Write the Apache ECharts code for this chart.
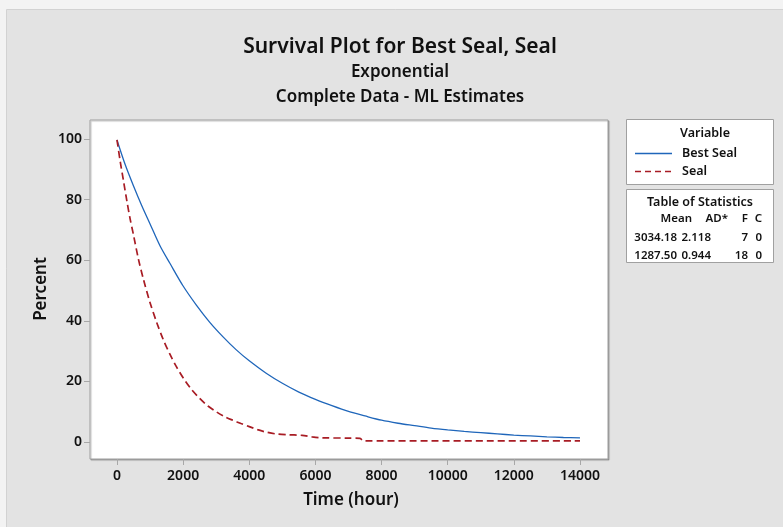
<!DOCTYPE html>
<html>
<head>
<meta charset="utf-8">
<script src="https://cdn.jsdelivr.net/npm/echarts@6/dist/echarts.min.js"></script>
<style>
html,body{margin:0;padding:0;background:#f3f3f3;}
#chart{width:783px;height:527px;}
</style>
</head>
<body>
<div id="chart"></div>
<script>
// ---- data ----
var bestSealTime = [0,250,500,750,1000,1300,1600,2000,2400,2800,3200,3600,4000,4500,5000,5500,6000,6500,7000,7500,8000,8500,9000,9500,10000,10500,11000,11500,12000,12500,13000,13500,14000];
var bestSealPct  = [99.7,91.5,84.5,78,72,64.8,59,51.5,45.2,39.6,34.8,30.5,26.8,22.8,19.4,16.5,14.1,12.0,10.1,8.6,7.2,6.2,5.4,4.6,4.0,3.5,3.1,2.7,2.3,2.0,1.7,1.5,1.4];
var sealTime = [0,100,200,300,400,500,650,800,1000,1200,1400,1600,1800,2000,2250,2500,2750,3000,3250,3500,3750,4000,4250,4500,4800,5200,5600,5900,6200,7000,7350,7450,14000];
var sealPct  = [99.7,92.5,86,79.5,73.5,68.3,60.3,53.7,46,39.5,33.8,29,24.8,21.2,17.4,14.4,11.9,10,8.4,7.2,6.1,5.1,4.1,3.3,2.7,2.4,2.2,1.7,1.4,1.3,1.2,0.4,0.4];
var seriesNames = ['Best Seal','Seal'];
var xTicks = [0,2000,4000,6000,8000,10000,12000,14000];
var yTicks = [0,20,40,60,80,100];
var statHeader = ['Mean','AD*','F','C'];
var statRows = [['3034.18','2.118','7','0'],['1287.50','0.944','18','0']];

var BLUE = '#1f66ba', RED = '#a81c24';
function pairs(xs, ys){ return xs.map(function(x,i){ return [x, ys[i]]; }); }

var FONT = 'Noto Sans';
var chart = echarts.init(document.getElementById('chart'), null, {renderer:'canvas'});

function txt(x,y,s,size,align,extra){
  var o = {type:'text', x:x, y:y, style:{text:s, font:'600 '+size+'px "'+FONT+'"', fill:'#111', textAlign:align||'center', textVerticalAlign:'middle'}};
  if (extra) for (var k in extra) o[k]=extra[k];
  return o;
}

var gfx = [
  {type:'rect', z:-10, shape:{x:6.5,y:9.5,width:790,height:530}, style:{fill:'#e3e3e3', stroke:'#d2d2d2', lineWidth:1}},
  txt(400,47,'Survival Plot for Best Seal, Seal',21),
  txt(400,72,'Exponential',17),
  txt(400,97,'Complete Data - ML Estimates',17),
  txt(351,500,'Time (hour)',17),
  txt(41,289,'Percent',17,'center',{rotation:Math.PI/2}),
  // legend box
  {type:'rect', z:-5, shape:{x:626.5,y:119.5,width:147,height:65}, style:{fill:'#fff', stroke:'#a0a0a0', lineWidth:1}},
  txt(705,133,'Variable',12.5),
  {type:'line', shape:{x1:635,y1:153.5,x2:672,y2:153.5}, style:{stroke:BLUE, lineWidth:1.3}},
  {type:'line', shape:{x1:635,y1:171.5,x2:672,y2:171.5}, style:{stroke:RED, lineWidth:1.6, lineDash:[6,4]}},
  txt(682,153,seriesNames[0],12.5,'left'),
  txt(682,171,seriesNames[1],12.5,'left'),
  // statistics table box
  {type:'rect', z:-5, shape:{x:626.5,y:189.5,width:147,height:73}, style:{fill:'#fff', stroke:'#a0a0a0', lineWidth:1}},
  txt(700,202,'Table of Statistics',12.5)
];
var colRight = [692, 728, 748, 762];
statHeader.forEach(function(h,i){ gfx.push(txt(colRight[i],219,h,11.5,'right')); });
var rowRight = [677, 711, 748, 762];
statRows.forEach(function(r,ri){
  r.forEach(function(v,i){ gfx.push(txt(rowRight[i],238+ri*18,v,11.5,'right')); });
});

var tickStyle = {show:true, inside:false, length:6, lineStyle:{color:'#a8a8a8'}};
chart.setOption({
  animation:false,
  backgroundColor:'transparent',
  graphic: gfx,
  grid:{left:90, top:120, width:518, height:339, show:true, backgroundColor:'#fff', borderColor:'#a0a0a0', borderWidth:1,
        shadowColor:'rgba(0,0,0,0.25)', shadowOffsetX:1, shadowOffsetY:1, shadowBlur:1},
  xAxis:{
    type:'value', min:-816, max:14847,
    axisLine:{show:false, onZero:false},
    splitLine:{show:false},
    axisTick:Object.assign({customValues:xTicks}, tickStyle),
    axisLabel:{margin:10, fontFamily:FONT, fontSize:14, fontWeight:600, color:'#111', customValues:xTicks,
               formatter:function(v){ return String(v); }}
  },
  yAxis:{
    type:'value', min:-5.6, max:106.3,
    axisLine:{show:false, onZero:false},
    splitLine:{show:false},
    axisTick:Object.assign({customValues:yTicks}, tickStyle),
    axisLabel:{margin:8, fontFamily:FONT, fontSize:14, fontWeight:600, color:'#111', customValues:yTicks,
               formatter:function(v){ return String(v); }}
  },
  series:[
    {name:seriesNames[0], type:'line', data:pairs(bestSealTime,bestSealPct), showSymbol:false, symbol:'none',
     smooth:0.3, lineStyle:{color:BLUE, width:1.3}, itemStyle:{color:BLUE}},
    {name:seriesNames[1], type:'line', data:pairs(sealTime,sealPct), showSymbol:false, symbol:'none',
     smooth:0.3, lineStyle:{color:RED, width:1.7, type:[7,4]}, itemStyle:{color:RED}}
  ]
});
</script>
</body>
</html>
